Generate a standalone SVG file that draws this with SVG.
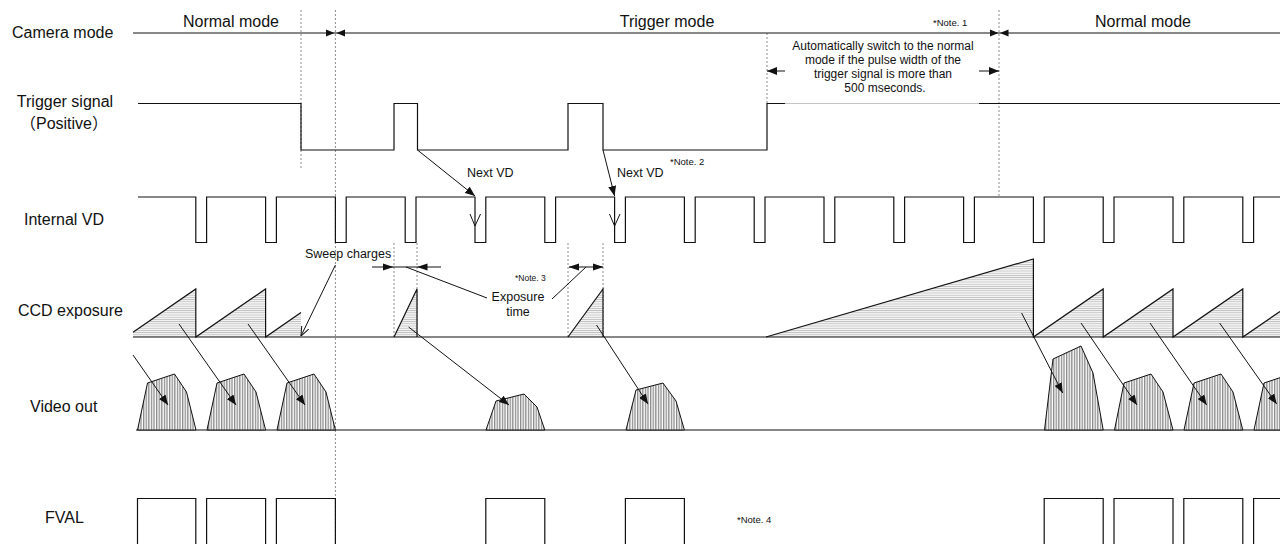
<svg xmlns="http://www.w3.org/2000/svg" width="1280" height="544" viewBox="0 0 1280 544">
<style>
.lbl{font-family:"Liberation Sans",Arial,"Noto Sans CJK JP",sans-serif;font-size:16px;fill:#111}
.sm{font-size:12.5px}
.box{font-size:12px}
.note{font-size:9.5px}
.wave{fill:none;stroke:#111;stroke-width:1.2}
.dash{fill:none;stroke:#8a8a8a;stroke-width:1;stroke-dasharray:2 2}
.conn{fill:none;stroke:#111;stroke-width:1}
.head{fill:#111}
.hh{fill:url(#hH);stroke:none}
.hv{fill:url(#hV);stroke:#111;stroke-width:1}
</style>
<defs>
<pattern id="hH" width="6" height="2.2" patternUnits="userSpaceOnUse"><rect width="6" height="2.2" fill="#f5f5f5"/><rect width="6" height="0.8" fill="#bdbdbd"/></pattern>
<pattern id="hV" width="2.6" height="6" patternUnits="userSpaceOnUse"><rect width="2.6" height="6" fill="#fff"/><rect width="1.3" height="6" fill="#8a8a8a"/></pattern>
<marker id="ah" viewBox="0 0 10 8" refX="10" refY="4" markerWidth="10" markerHeight="8" markerUnits="userSpaceOnUse" orient="auto"><path d="M0,0 L10,4 L0,8 z" fill="#111"/></marker>
<marker id="ao" viewBox="0 0 10 8" refX="10" refY="4" markerWidth="10" markerHeight="8" markerUnits="userSpaceOnUse" orient="auto"><path d="M0,0 L10,4 L0,8" fill="none" stroke="#111" stroke-width="1"/></marker>
</defs>
<rect width="1280" height="544" fill="#fff"/>

<g id="guides">
<path class="dash" d="M301,10 V168 M335.4,10 V544 M767,33 V103 M999,10 V197 M394,243 V337 M417,243 V337 M568,243 V337 M603,243 V337"/>
</g>

<g id="camera-mode">
<text class="lbl" x="12" y="38">Camera mode</text>
<text class="lbl" x="231" y="27" text-anchor="middle">Normal mode</text>
<text class="lbl" x="667" y="27" text-anchor="middle">Trigger mode</text>
<text class="lbl" x="1143" y="27" text-anchor="middle">Normal mode</text>
<text class="lbl note" x="933" y="26">*Note. 1</text>
<path class="conn" d="M133,33 H1280"/>
<polygon class="head" points="326,29.5 334.5,33 326,36.5"/>
<polygon class="head" points="345,29.5 336.5,33 345,36.5"/>
<polygon class="head" points="990,29.5 998.5,33 990,36.5"/>
<polygon class="head" points="1008.5,29.5 1000,33 1008.5,36.5"/>
</g>

<g id="trigger-signal">
<text class="lbl" x="65" y="107" text-anchor="middle">Trigger signal</text>
<text class="lbl" x="64" y="129" text-anchor="middle">（Positive）</text>
<path class="wave" d="M138,103.5 H301 V150 H394 V103.5 H417.5 V150 H568 V103.5 H603 V150 H767 V103.5 H785"/>
<path fill="none" stroke="#c4c4c4" stroke-width="1" d="M785,103.5 H979"/>
<path class="wave" d="M979,103.5 H1280"/>
</g>

<g id="auto-switch-note">
<text class="lbl box" x="883" y="50" text-anchor="middle">Automatically switch to the normal</text>
<text class="lbl box" x="883" y="64" text-anchor="middle">mode if the pulse width of the</text>
<text class="lbl box" x="883" y="78" text-anchor="middle">trigger signal is more than</text>
<text class="lbl box" x="885" y="92" text-anchor="middle">500 mseconds.</text>
</g>

<g id="internal-vd">
<text class="lbl" x="24" y="225">Internal VD</text>
<path class="wave" d="M138,197 H195.8 V242.5 H206.6 V197 H265.6 V242.5 H276.4 V197 H335.4 V242.5 H346.2 V197 H405.2 V242.5 H416 V197 H475 V242.5 H485.8 V197 H544.8 V242.5 H555.6 V197 H614.6 V242.5 H625.4 V197 H684.4 V242.5 H695.2 V197 H754.2 V242.5 H765 V197 H824 V242.5 H834.8 V197 H893.8 V242.5 H904.6 V197 H963.6 V242.5 H974.4 V197 H1033.4 V242.5 H1044.2 V197 H1103.2 V242.5 H1114 V197 H1173 V242.5 H1183.8 V197 H1242.8 V242.5 H1253.6 V197 H1280"/>
<path class="conn" d="M470,214 L475,226 L480.5,214 M609.5,214 L614.6,226 L620,214"/>
</g>

<g id="ccd-exposure">
<text class="lbl" x="18" y="316">CCD exposure</text>
<polygon class="hh" points="133,337 133,332.2 195.8,289 195.8,337"/>
<polygon class="hh" points="195.8,337 265.6,289 265.6,337"/>
<polygon class="hh" points="265.6,337 301,312.6 301,337"/>
<polygon class="hh" points="394,337 417,289 417,337"/>
<polygon class="hh" points="568,337 603,289 603,337"/>
<polygon class="hh" points="766,337 1033.4,259 1033.4,337"/>
<polygon class="hh" points="1033.4,337 1103.2,289 1103.2,337"/>
<polygon class="hh" points="1103.2,337 1173,289 1173,337"/>
<polygon class="hh" points="1173,337 1242.8,289 1242.8,337"/>
<polygon class="hh" points="1242.8,337 1280,311.4 1280,337"/>
<path class="wave" d="M133,332.2 L195.8,289 V337 L265.6,289 V337 L301,312.6 M394,337 L417,289 V337 M568,337 L603,289 V337 M766,337 L1033.4,259 V337 L1103.2,289 V337 L1173,289 V337 L1242.8,289 V337 L1280,311.4"/>
<path class="wave" d="M133,337 H1280"/>
<text class="lbl sm" x="305" y="258">Sweep charges</text>
<text class="lbl sm" x="518" y="301" text-anchor="middle">Exposure</text>
<text class="lbl sm" x="518" y="316" text-anchor="middle">time</text>
<text class="lbl note" x="515" y="281" style="font-size:8.5px">*Note. 3</text>
</g>

<g id="video-out">
<text class="lbl" x="30" y="412">Video out</text>
<path class="wave" d="M136,430 H1280"/>
<polygon class="hv" points="137.5,430 147.5,383 174.5,374 186.5,392 196,430"/>
<polygon class="hv" points="207,430 217,383 244,374 256,392 265.6,430"/>
<polygon class="hv" points="277,430 287,383 314,374 326,392 335.4,430"/>
<polygon class="hv" points="486,430 496,401 524,394 537,407 544.8,430"/>
<polygon class="hv" points="626,430 636,390 663,383 676,401 684.4,430"/>
<polygon class="hv" points="1044.5,430 1053,359 1081,346 1093,373 1103.2,430"/>
<polygon class="hv" points="1114.5,430 1124,383 1151,374 1163,392 1173,430"/>
<polygon class="hv" points="1184,430 1194,383 1221,374 1233,392 1242.8,430"/>
<polygon class="hv" points="1254,430 1264,383 1291,374 1303,392 1312.6,430"/>
</g>

<g id="fval">
<text class="lbl" x="45" y="523">FVAL</text>
<path class="wave" d="M137.5,545 V498.5 H195.8 V545 M206.6,545 V498.5 H265.6 V545 M276.4,545 V498.5 H335.4 V545 M485.8,545 V498.5 H544.8 V545 M625.4,545 V498.5 H684.4 V545 M1044.2,545 V498.5 H1103.2 V545 M1114,545 V498.5 H1173 V545 M1183.8,545 V498.5 H1242.8 V545 M1253.6,545 V498.5 H1290"/>
<text class="lbl note" x="737" y="523">*Note. 4</text>
</g>

<g id="connectors">
<path class="conn" marker-end="url(#ah)" d="M417.5,150 L475,196"/>
<path class="conn" marker-end="url(#ah)" d="M603,150 L614.6,196"/>
<path class="conn" marker-end="url(#ah)" d="M785,71 H767"/>
<path class="conn" marker-end="url(#ah)" d="M979,71 H999"/>
<path class="conn" d="M372,267 H441"/>
<polygon class="head" points="383,263.5 393.5,267 383,270.5"/>
<polygon class="head" points="427.5,263.5 417,267 427.5,270.5"/>
<path class="conn" d="M569,267 H603"/>
<polygon class="head" points="579,263.5 568.5,267 579,270.5"/>
<polygon class="head" points="593,263.5 603.5,267 593,270.5"/>
<path class="conn" d="M406,267 L487,298"/>
<path class="conn" d="M586,267 L552,299"/>
<path class="conn" marker-end="url(#ao)" d="M335.4,265 L301,336"/>
<path class="conn" marker-end="url(#ah)" d="M133,355 L168,405"/>
<path class="conn" marker-end="url(#ah)" d="M179,324 L236,405"/>
<path class="conn" marker-end="url(#ah)" d="M248,324 L305,405"/>
<path class="conn" marker-end="url(#ah)" d="M408.6,327 L509,405"/>
<path class="conn" marker-end="url(#ah)" d="M596.5,325 L648,404"/>
<path class="conn" marker-end="url(#ah)" d="M1021.6,313 L1062.7,393"/>
<path class="conn" marker-end="url(#ah)" d="M1081,323 L1137,405"/>
<path class="conn" marker-end="url(#ah)" d="M1150,323 L1206.7,405"/>
<path class="conn" marker-end="url(#ah)" d="M1219.6,323 L1276.7,404"/>
<text class="lbl sm" x="467" y="177">Next VD</text>
<text class="lbl sm" x="617" y="177">Next VD</text>
<text class="lbl note" x="670" y="165">*Note. 2</text>
</g>
</svg>
